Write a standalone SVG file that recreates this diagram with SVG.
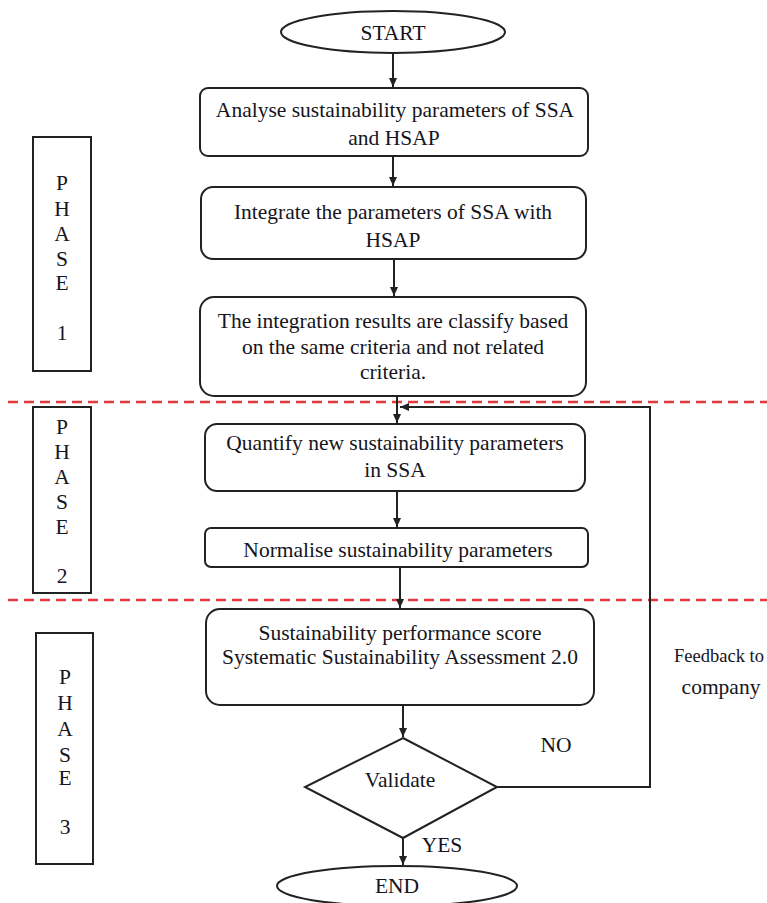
<svg xmlns="http://www.w3.org/2000/svg" width="767" height="903" viewBox="0 0 767 903">
<style>
text{font-family:"Liberation Serif","Times New Roman",serif;font-size:21.5px;fill:#151520;text-anchor:middle}
.box{fill:#fff;stroke:#222;stroke-width:2}
.line{fill:none;stroke:#222;stroke-width:2}
.dash{stroke:#e8393a;stroke-width:2.5;stroke-dasharray:10 6;fill:none}
</style>
<defs>
<marker id="ah" markerWidth="10" markerHeight="10" refX="9" refY="5" orient="auto" markerUnits="userSpaceOnUse">
<path d="M0,1 L9,5 L0,9 Z" fill="#222"/>
</marker>
</defs>
<rect width="767" height="903" fill="#fff"/>
<g id="dividers">
<line class="dash" x1="8" y1="402" x2="767" y2="402"/>
<line class="dash" x1="8" y1="600" x2="767" y2="600"/>
</g>
<g id="connectors">
<line class="line" x1="393" y1="53" x2="393" y2="87" marker-end="url(#ah)"/>
<line class="line" x1="393" y1="156" x2="393" y2="186" marker-end="url(#ah)"/>
<line class="line" x1="394" y1="259" x2="394" y2="296" marker-end="url(#ah)"/>
<line class="line" x1="397" y1="396" x2="397" y2="423" marker-end="url(#ah)"/>
<line class="line" x1="397" y1="491" x2="397" y2="527" marker-end="url(#ah)"/>
<line class="line" x1="400" y1="567" x2="400" y2="608" marker-end="url(#ah)"/>
<line class="line" x1="403" y1="705" x2="403" y2="737" marker-end="url(#ah)"/>
<line class="line" x1="403" y1="838" x2="403" y2="865" marker-end="url(#ah)"/>
<polyline class="line" points="497,787 650,787 650,407 400,407" marker-end="url(#ah)"/>
</g>
<g id="start">
<ellipse class="box" cx="393" cy="32" rx="112" ry="21"/>
<text x="393" y="40">START</text>
</g>
<g id="analyse">
<rect class="box" x="200" y="88" width="388" height="68" rx="8"/>
<text x="395" y="117">Analyse sustainability parameters of SSA</text>
<text x="394" y="145">and HSAP</text>
</g>
<g id="integrate">
<rect class="box" x="201" y="187" width="385" height="72" rx="12"/>
<text x="393" y="219">Integrate the parameters of SSA with</text>
<text x="393" y="247">HSAP</text>
</g>
<g id="classify">
<rect class="box" x="200" y="297" width="386" height="99" rx="14"/>
<text x="393" y="328">The integration results are classify based</text>
<text x="393" y="354">on the same criteria and not related</text>
<text x="393" y="379">criteria.</text>
</g>
<g id="quantify">
<rect class="box" x="205" y="424" width="380" height="67" rx="12"/>
<text x="395" y="450">Quantify new sustainability parameters</text>
<text x="395" y="477">in SSA</text>
</g>
<g id="normalise">
<rect class="box" x="205" y="528" width="383" height="39" rx="6"/>
<text x="398" y="557">Normalise sustainability parameters</text>
</g>
<g id="score">
<rect class="box" x="206" y="609" width="388" height="96" rx="14"/>
<text x="400" y="640">Sustainability performance score</text>
<text x="400" y="664">Systematic Sustainability Assessment 2.0</text>
</g>
<g id="validate">
<polygon class="box" points="403,738 497,787 403,838 305,787"/>
<text x="400" y="787">Validate</text>
</g>
<g id="end">
<ellipse class="box" cx="397" cy="886" rx="120" ry="20"/>
<text x="397" y="893">END</text>
</g>
<g id="labels">
<text x="556" y="752">NO</text>
<text x="442" y="852">YES</text>
<text x="719" y="662" style="font-size:18.5px">Feedback to</text>
<text x="721" y="694">company</text>
</g>
<g id="phase1">
<rect class="box" x="33" y="137" width="58" height="234"/>
<text x="62" y="190">P</text>
<text x="62" y="216">H</text>
<text x="62" y="241">A</text>
<text x="62" y="266">S</text>
<text x="62" y="290">E</text>
<text x="62" y="340">1</text>
</g>
<g id="phase2">
<rect class="box" x="33" y="407" width="58" height="186"/>
<text x="62" y="434">P</text>
<text x="62" y="459">H</text>
<text x="62" y="484">A</text>
<text x="62" y="509">S</text>
<text x="62" y="534">E</text>
<text x="62" y="583">2</text>
</g>
<g id="phase3">
<rect class="box" x="36" y="633" width="57" height="231"/>
<text x="65" y="684">P</text>
<text x="65" y="710">H</text>
<text x="65" y="736">A</text>
<text x="65" y="762">S</text>
<text x="65" y="785">E</text>
<text x="65" y="834">3</text>
</g>
</svg>
